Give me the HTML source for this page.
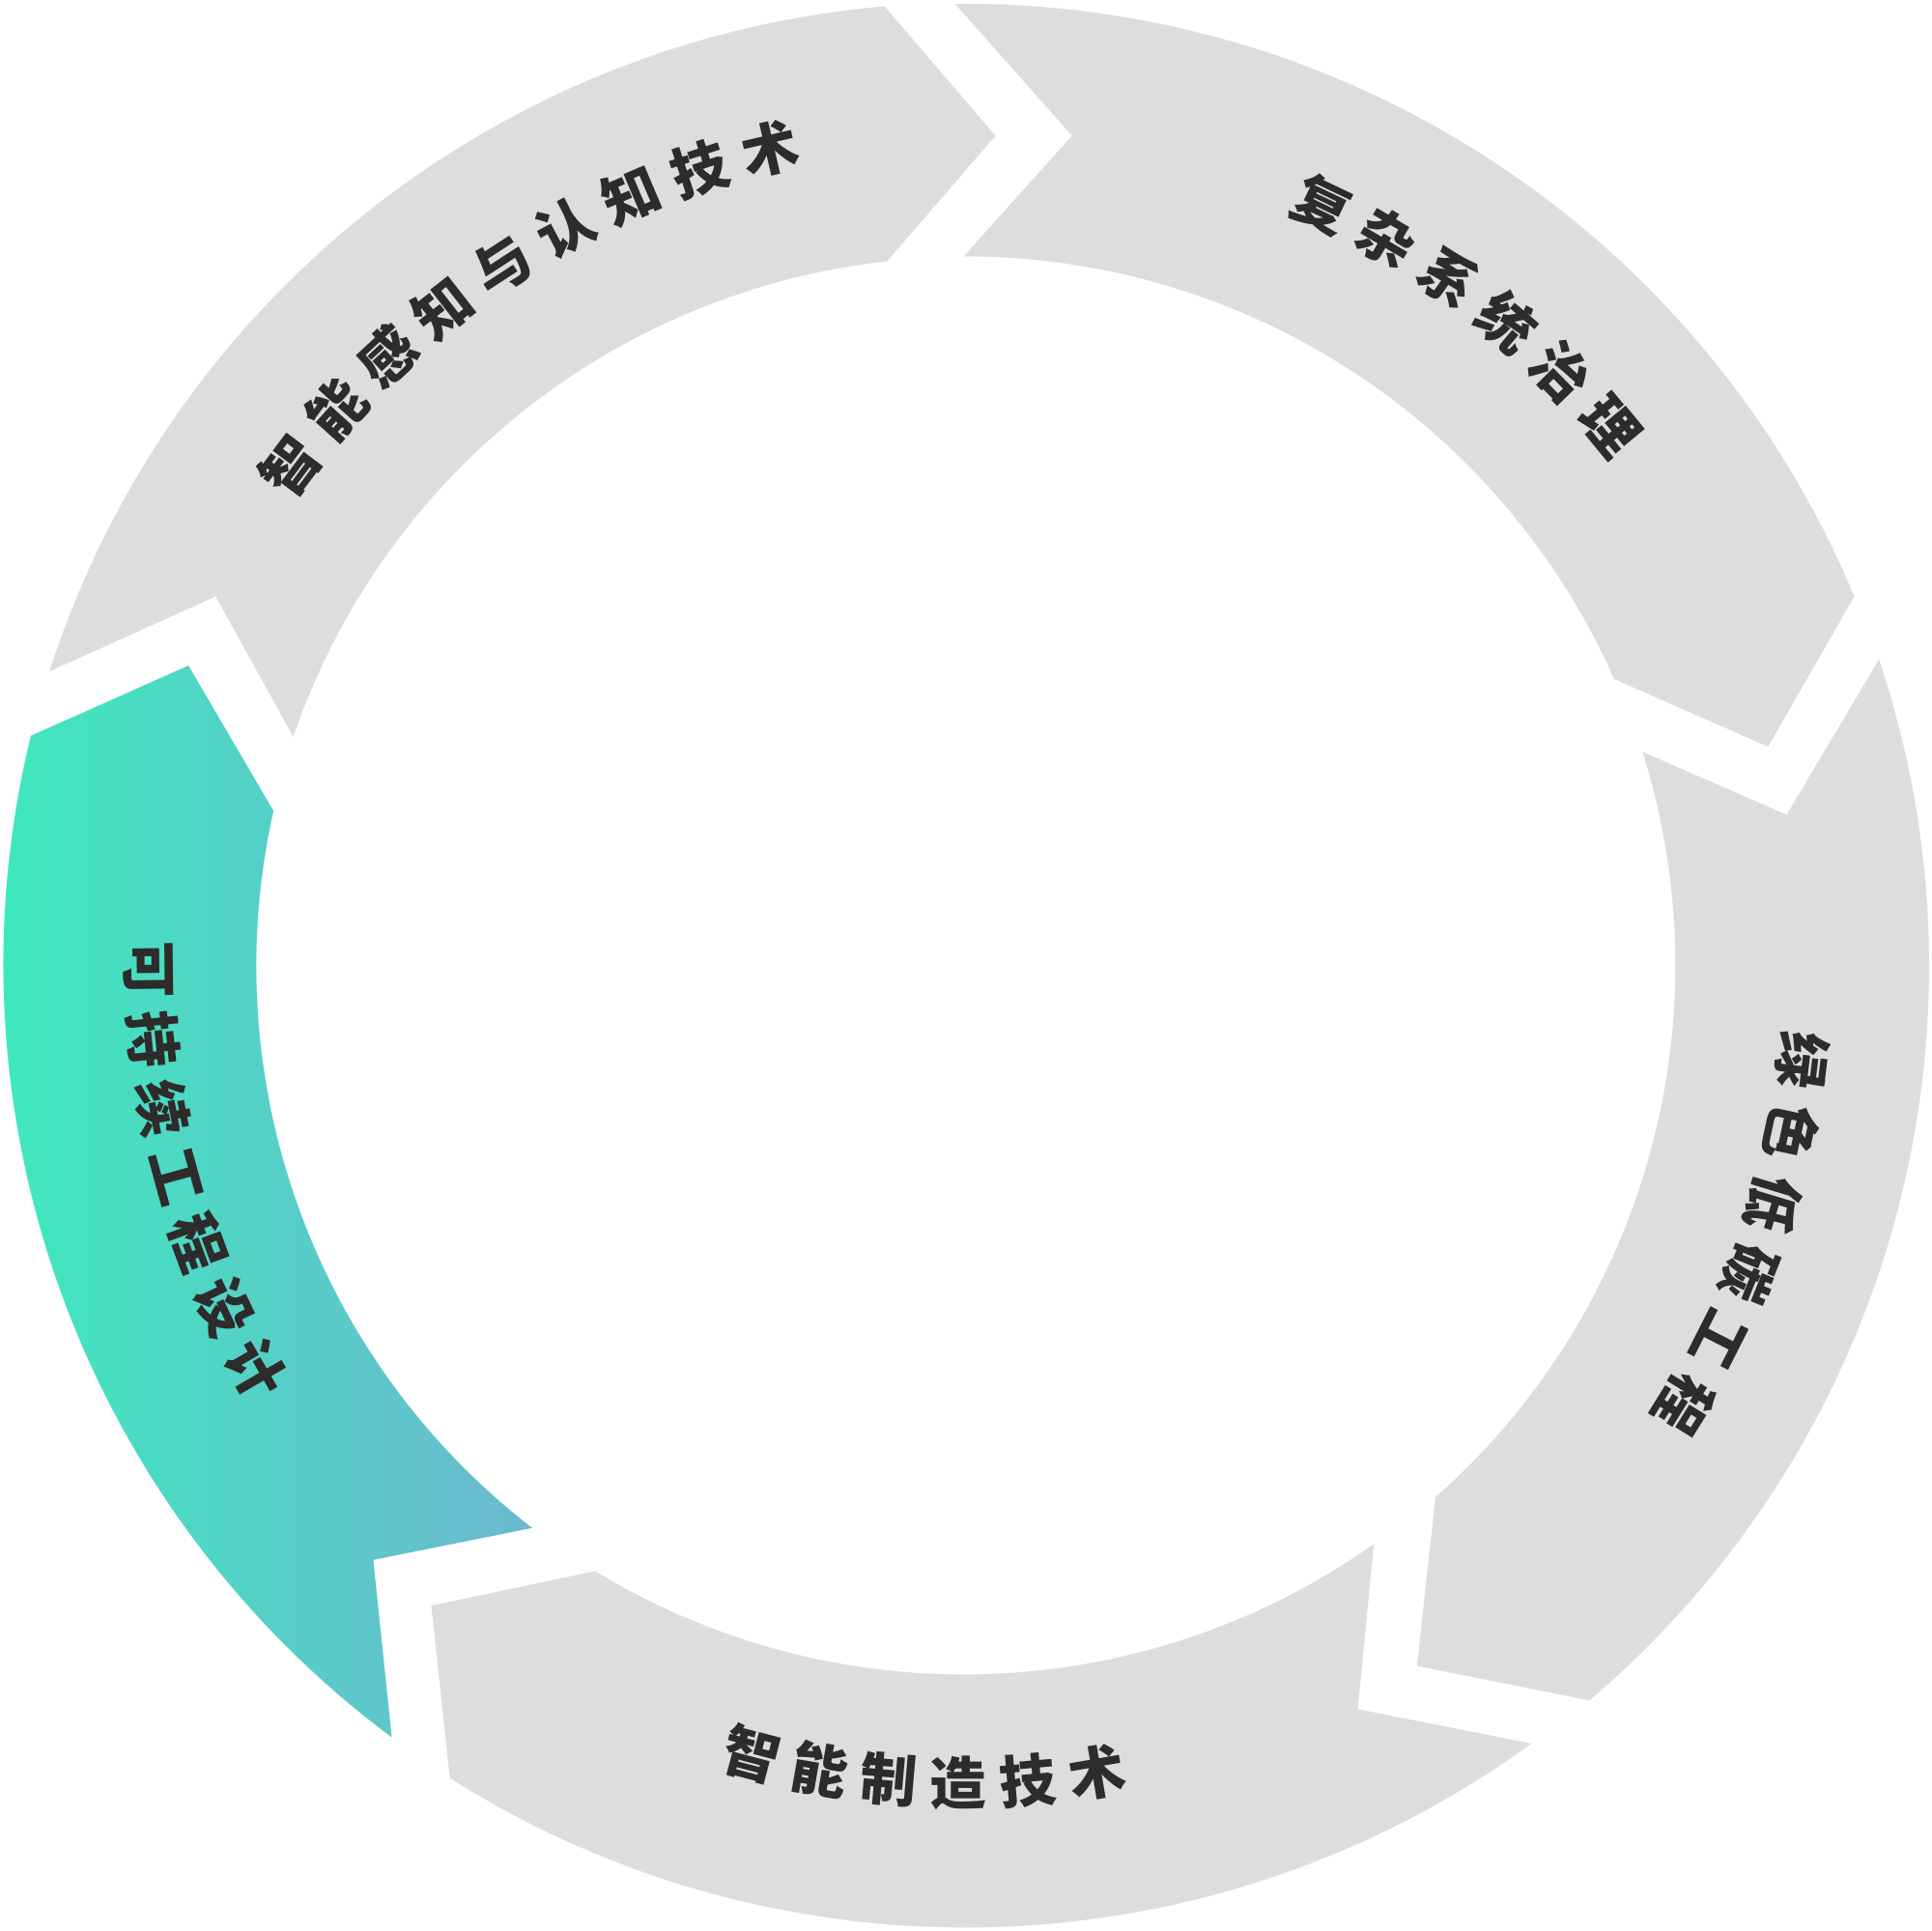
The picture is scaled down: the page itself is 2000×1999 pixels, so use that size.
<!DOCTYPE html>
<html><head><meta charset="utf-8"><style>
html,body{margin:0;padding:0;background:#fff;}
svg{display:block;}
text{font-family:"Liberation Sans","Noto Sans CJK SC",sans-serif;font-weight:900;font-size:46px;fill:#2e2b2b;letter-spacing:12px;}
</style></head><body>
<svg width="2000" height="1999" viewBox="0 0 1568 1567" xmlns="http://www.w3.org/2000/svg">
<defs>
<linearGradient id="g" x1="0" y1="0" x2="1" y2="0">
<stop offset="0" stop-color="#3ee8bd"/><stop offset="1" stop-color="#6cb8d0"/>
</linearGradient>
<path id="p1" d="M119.9,818.8 A665,665 0 0 1 1085.9,191.5" fill="none"/>
<path id="p2" d="M534.9,167.4 A665,665 0 0 1 1442.5,876.6" fill="none"/>
<path id="p3" d="M1288.9,351.2 A665,665 0 0 1 906.4,1437.6" fill="none"/>
<path id="p4" d="M180.8,1098 A680,680 0 0 0 1357.5,1149.4" fill="none"/>
<path id="p5" d="M299.8,306.5 A680,680 0 0 0 612.6,1442" fill="none"/>
</defs>
<g fill="#dcdedd">
<path d="M40,545 A782,782 0 0 1 718,5 L808,110 L720,212 A576,576 0 0 0 238,598 L175,484 Z"/>
<path d="M775,3 A782,782 0 0 1 1505,484 L1435,606 L1310,551 A576,576 0 0 0 782,208 L870,110 Z"/>
<path d="M1525,535 A782,782 0 0 1 1290,1380 L1150,1352 L1165,1215 A576,576 0 0 0 1333,610 L1450,661 Z"/>
<path d="M1243,1415 A782,782 0 0 1 365,1443 L350,1303 L483,1275 A576,576 0 0 0 1115,1253 L1102,1387 Z"/>
</g>
<path fill="url(#g)" d="M318,1410 A782,782 0 0 1 25,597 L153,540 L222,658 A576,576 0 0 0 432,1240 L303,1266 Z"/>
<text><textPath href="#p1" startOffset="50%" text-anchor="middle">智能感知与认知技术</textPath></text>
<text><textPath href="#p2" startOffset="50%" text-anchor="middle">复杂系统治理</textPath></text>
<text><textPath href="#p3" startOffset="50%" text-anchor="middle">绿色低碳工程</textPath></text>
<text><textPath href="#p4" startOffset="50%" text-anchor="middle">智能制造技术</textPath></text>
<text><textPath href="#p5" startOffset="50%" text-anchor="middle">可持续工程设计</textPath></text>
</svg>
</body></html>
